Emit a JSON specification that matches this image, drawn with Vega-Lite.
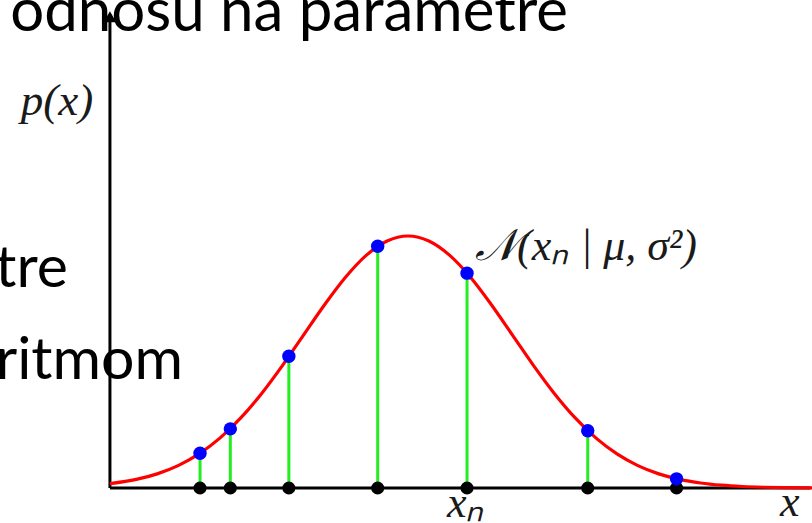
{
  "$schema": "https://vega.github.io/schema/vega-lite/v6.json",
  "width": 812,
  "height": 523,
  "padding": 0,
  "autosize": {"type": "none"},
  "background": "white",
  "config": {"view": {"stroke": null}},
  "data": {"values": [{}]},
  "datasets": {
    "density": [
      {"x": -2.852, "p": 0.00687},
      {"x": -2.6, "p": 0.01358},
      {"x": -2.4, "p": 0.02239},
      {"x": -2.2, "p": 0.03547},
      {"x": -2.0, "p": 0.05399},
      {"x": -1.8, "p": 0.07895},
      {"x": -1.6, "p": 0.11092},
      {"x": -1.4, "p": 0.14973},
      {"x": -1.2, "p": 0.19419},
      {"x": -1.0, "p": 0.24197},
      {"x": -0.8, "p": 0.28969},
      {"x": -0.6, "p": 0.33322},
      {"x": -0.4, "p": 0.36827},
      {"x": -0.2, "p": 0.39104},
      {"x": 0.0, "p": 0.39894},
      {"x": 0.2, "p": 0.39104},
      {"x": 0.4, "p": 0.36827},
      {"x": 0.6, "p": 0.33322},
      {"x": 0.8, "p": 0.28969},
      {"x": 1.0, "p": 0.24197},
      {"x": 1.2, "p": 0.19419},
      {"x": 1.4, "p": 0.14973},
      {"x": 1.6, "p": 0.11092},
      {"x": 1.8, "p": 0.07895},
      {"x": 2.0, "p": 0.05399},
      {"x": 2.2, "p": 0.03547},
      {"x": 2.4, "p": 0.02239},
      {"x": 2.6, "p": 0.01358},
      {"x": 2.8, "p": 0.00792},
      {"x": 3.0, "p": 0.00443},
      {"x": 3.2, "p": 0.00238},
      {"x": 3.4, "p": 0.00123},
      {"x": 3.6, "p": 0.00061},
      {"x": 3.866, "p": 0.00023}
    ],
    "samples": [
      {"x": -1.99, "p": 0.0551},
      {"x": -1.70, "p": 0.0936},
      {"x": -1.14, "p": 0.2086},
      {"x": -0.29, "p": 0.3828},
      {"x": 0.565, "p": 0.3401},
      {"x": 1.72, "p": 0.0905},
      {"x": 2.57, "p": 0.0145}
    ]
  },
  "layer": [
    {
      "mark": {"type": "rule", "color": "black", "strokeWidth": 3},
      "encoding": {
        "x": {"datum": -2.852, "type": "quantitative", "scale": {"domain": [-3.904, 3.866], "nice": false, "zero": false}, "axis": null},
        "y": {"datum": 0, "type": "quantitative", "scale": {"domain": [-0.0554, 0.7725], "nice": false, "zero": false}, "axis": null},
        "y2": {"datum": 0.75}
      }
    },
    {
      "mark": {"type": "rule", "color": "black", "strokeWidth": 3},
      "encoding": {
        "x": {"datum": -2.852, "type": "quantitative"},
        "x2": {"datum": 3.85},
        "y": {"datum": 0, "type": "quantitative"}
      }
    },
    {
      "mark": {"type": "point", "shape": "triangle-up", "filled": true, "color": "black", "size": 160, "opacity": 1},
      "encoding": {
        "x": {"datum": -2.852, "type": "quantitative"},
        "y": {"datum": 0.746, "type": "quantitative"}
      }
    },
    {
      "mark": {"type": "point", "shape": "triangle-right", "filled": true, "color": "black", "size": 160, "opacity": 1},
      "encoding": {
        "x": {"datum": 3.92, "type": "quantitative"},
        "y": {"datum": 0, "type": "quantitative"}
      }
    },
    {
      "data": {"name": "samples"},
      "mark": {"type": "rule", "color": "#22ee22", "strokeWidth": 3},
      "encoding": {
        "x": {"field": "x", "type": "quantitative"},
        "y": {"field": "p", "type": "quantitative"},
        "y2": {"datum": 0}
      }
    },
    {
      "data": {"name": "density"},
      "mark": {"type": "line", "color": "#ff0000", "strokeWidth": 3.2, "interpolate": "monotone"},
      "encoding": {
        "x": {"field": "x", "type": "quantitative"},
        "y": {"field": "p", "type": "quantitative"}
      }
    },
    {
      "data": {"name": "samples"},
      "mark": {"type": "circle", "color": "black", "size": 170, "opacity": 1},
      "encoding": {
        "x": {"field": "x", "type": "quantitative"},
        "y": {"datum": 0, "type": "quantitative"}
      }
    },
    {
      "data": {"name": "samples"},
      "mark": {"type": "circle", "color": "#0000ff", "size": 180, "opacity": 1},
      "encoding": {
        "x": {"field": "x", "type": "quantitative"},
        "y": {"field": "p", "type": "quantitative"}
      }
    },
    {
      "mark": {"type": "text", "text": "p(x)", "font": "Liberation Serif", "fontStyle": "italic", "fontSize": 45, "align": "center", "baseline": "alphabetic", "color": "#1a1a1a"},
      "encoding": {
        "x": {"datum": -3.359, "type": "quantitative"},
        "y": {"datum": 0.5905, "type": "quantitative"}
      }
    },
    {
      "mark": {"type": "text", "text": "𝒩(xₙ | μ, σ²)", "font": "Liberation Serif", "fontStyle": "italic", "fontSize": 44, "align": "left", "baseline": "alphabetic", "color": "#1a1a1a"},
      "encoding": {
        "x": {"datum": 0.641, "type": "quantitative"},
        "y": {"datum": 0.361, "type": "quantitative"}
      }
    },
    {
      "mark": {"type": "text", "text": "xₙ", "font": "Liberation Serif", "fontStyle": "italic", "fontSize": 44, "align": "left", "baseline": "alphabetic", "color": "#1a1a1a"},
      "encoding": {
        "x": {"datum": 0.373, "type": "quantitative"},
        "y": {"datum": -0.0459, "type": "quantitative"}
      }
    },
    {
      "mark": {"type": "text", "text": "x", "font": "Liberation Serif", "fontStyle": "italic", "fontSize": 44, "align": "left", "baseline": "alphabetic", "color": "#1a1a1a"},
      "encoding": {
        "x": {"datum": 3.56, "type": "quantitative"},
        "y": {"datum": -0.0440, "type": "quantitative"}
      }
    },
    {
      "mark": {"type": "text", "text": "odnosu na parametre", "font": "Lato", "fontSize": 60, "align": "right", "baseline": "alphabetic", "color": "black"},
      "encoding": {
        "x": {"datum": 1.531, "type": "quantitative"},
        "y": {"datum": 0.7234, "type": "quantitative"}
      }
    },
    {
      "mark": {"type": "text", "text": "tre", "font": "Lato", "fontSize": 59, "align": "right", "baseline": "alphabetic", "color": "black"},
      "encoding": {
        "x": {"datum": -3.254, "type": "quantitative"},
        "y": {"datum": 0.3182, "type": "quantitative"}
      }
    },
    {
      "mark": {"type": "text", "text": "ritmom", "font": "Lato", "fontSize": 59, "align": "right", "baseline": "alphabetic", "color": "black"},
      "encoding": {
        "x": {"datum": -2.153, "type": "quantitative"},
        "y": {"datum": 0.1726, "type": "quantitative"}
      }
    }
  ]
}
